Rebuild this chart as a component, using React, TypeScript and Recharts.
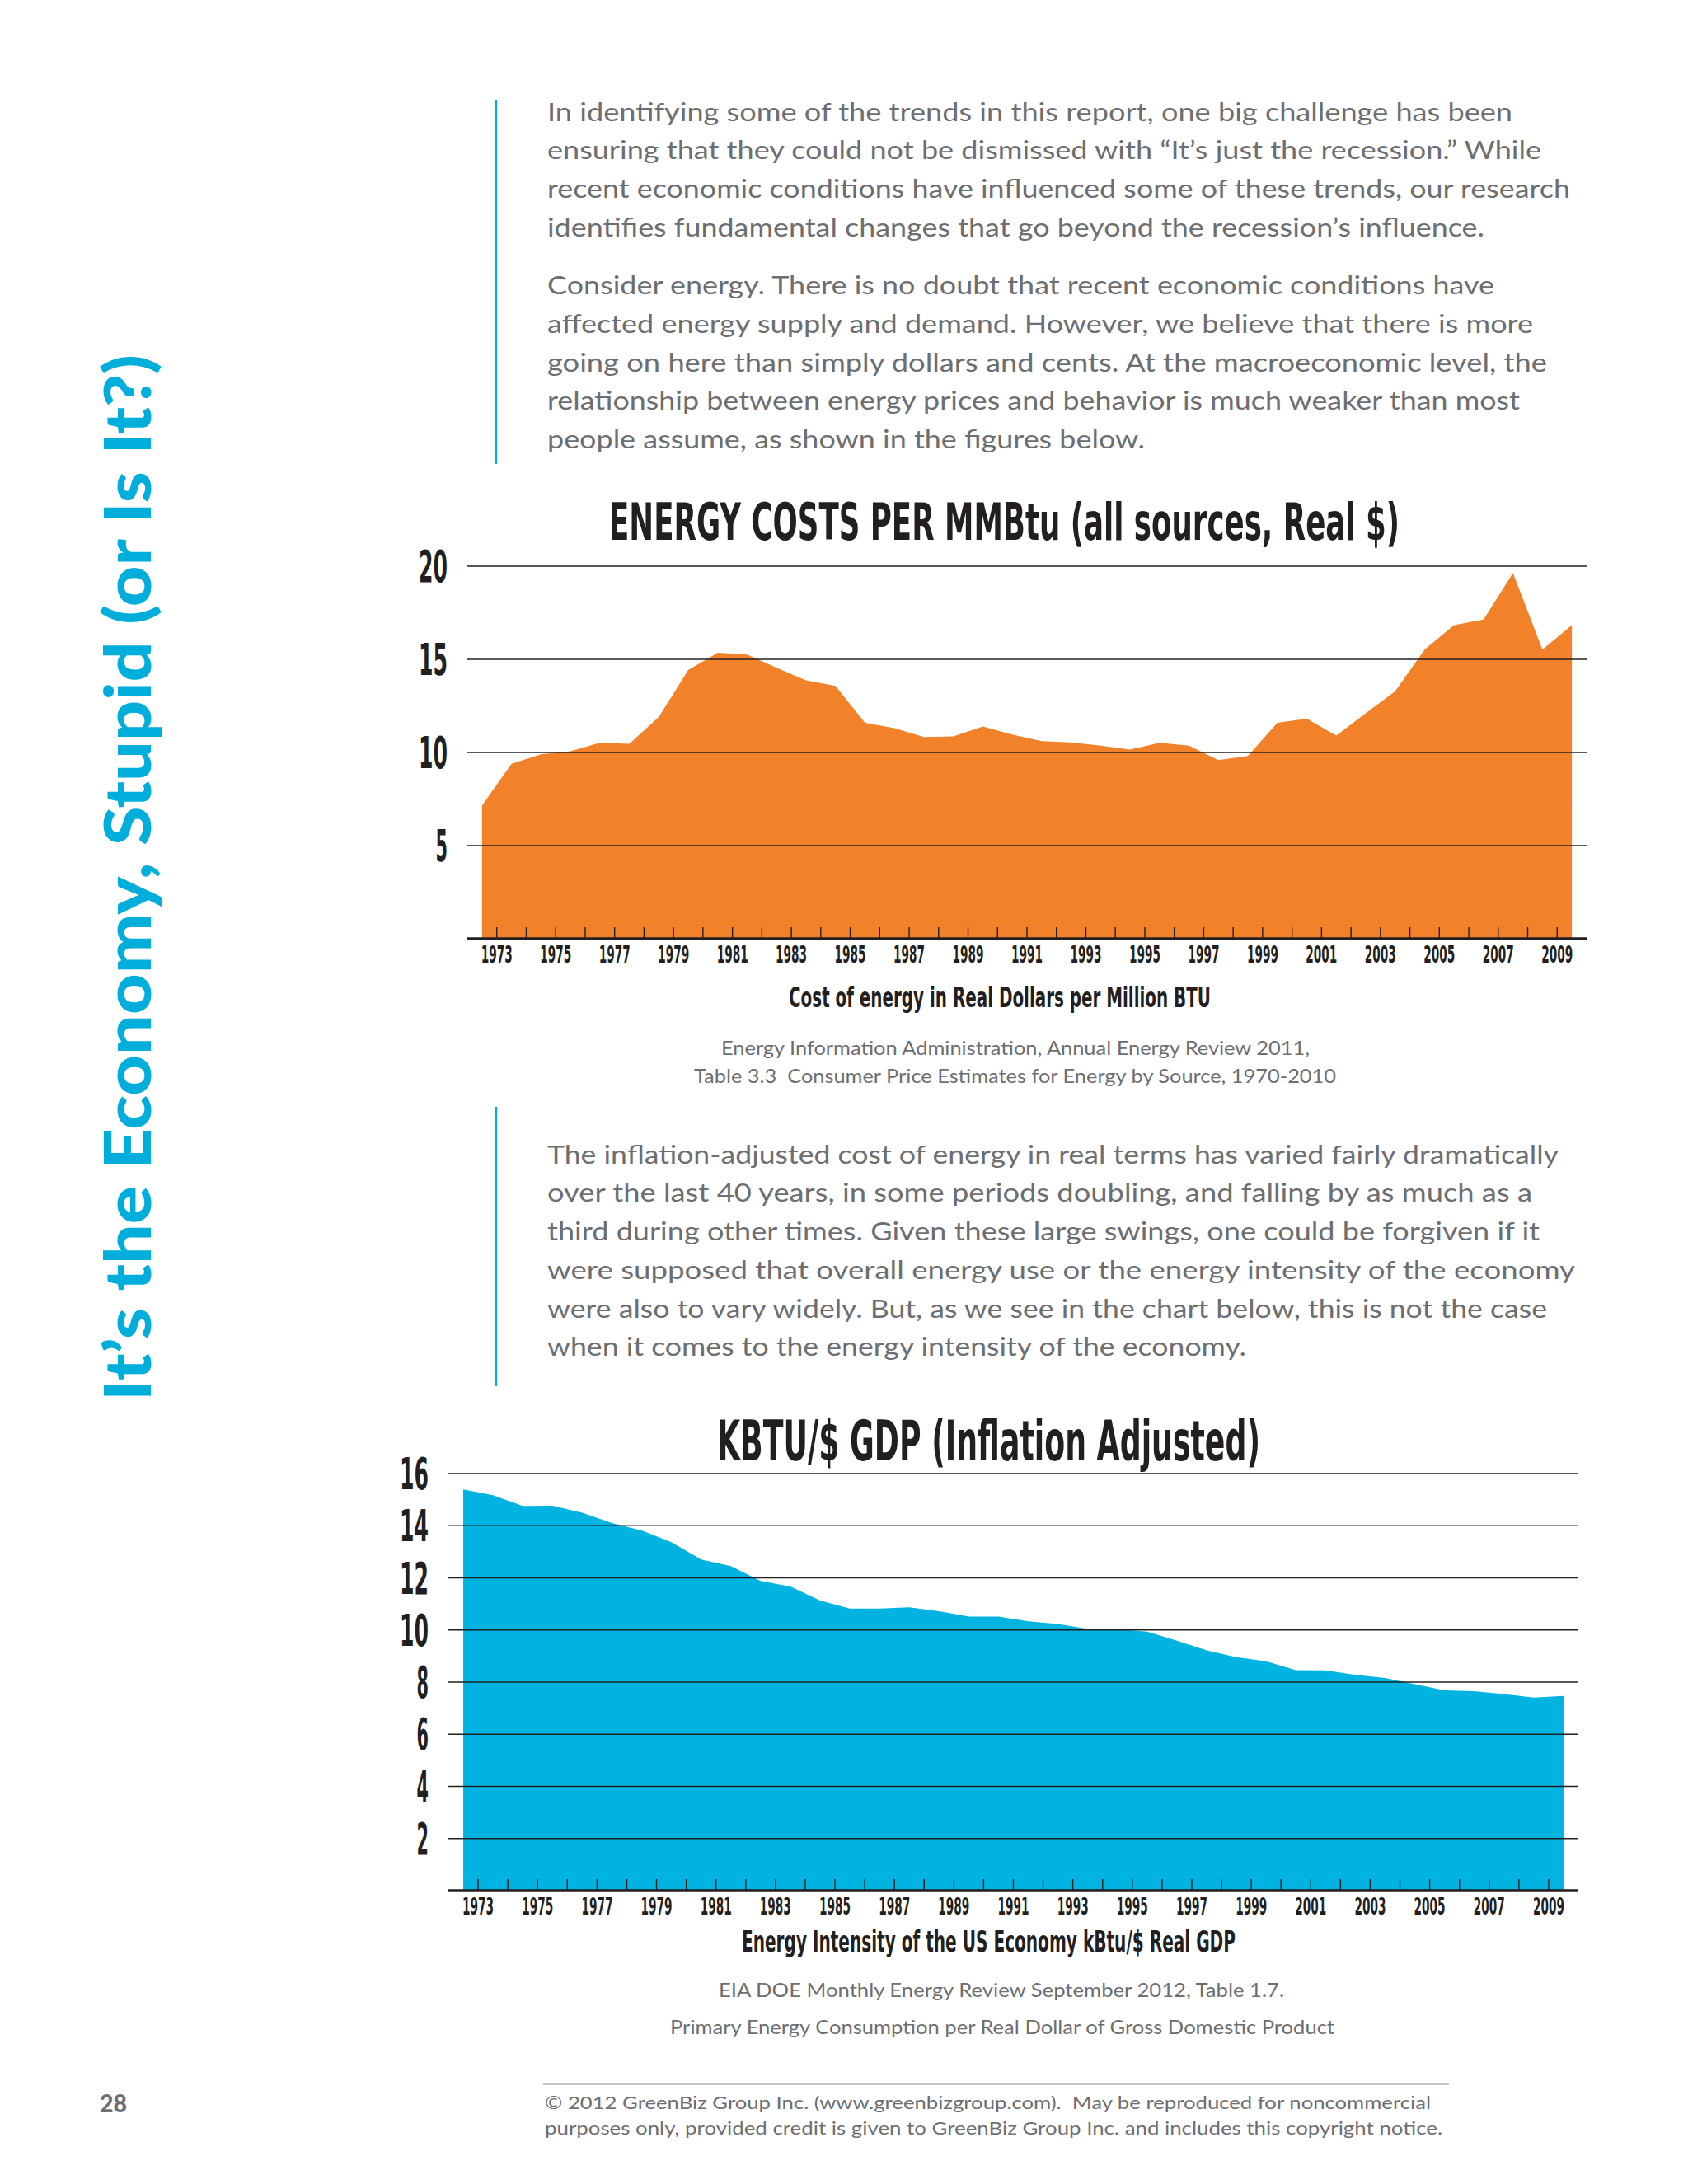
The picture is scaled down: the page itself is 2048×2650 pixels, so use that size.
import React from "react";
import { AreaChart, Area, XAxis, YAxis, ReferenceLine, Customized } from "recharts";

// years 1973-2010, one value per year
const YEARS = [
  1973, 1974, 1975, 1976, 1977, 1978, 1979, 1980, 1981, 1982, 1983, 1984, 1985,
  1986, 1987, 1988, 1989, 1990, 1991, 1992, 1993, 1994, 1995, 1996, 1997, 1998,
  1999, 2000, 2001, 2002, 2003, 2004, 2005, 2006, 2007, 2008, 2009, 2010,
];

// $ per MMBtu, real dollars
const ENERGY_COST = [
  7.16, 9.39, 9.9, 10.07, 10.52, 10.46, 11.9, 14.43, 15.35, 15.25, 14.55, 13.87,
  13.57, 11.59, 11.3, 10.83, 10.86, 11.39, 10.96, 10.61, 10.54, 10.37, 10.15,
  10.52, 10.37, 9.59, 9.81, 11.59, 11.81, 10.91, 12.1, 13.28, 15.52, 16.84,
  17.14, 19.64, 15.52, 16.84,
];

// kBtu per real $ of GDP
const ENERGY_INTENSITY = [
  15.39, 15.17, 14.76, 14.77, 14.5, 14.1, 13.82, 13.37, 12.7, 12.45, 11.88,
  11.67, 11.13, 10.82, 10.82, 10.87, 10.72, 10.51, 10.51, 10.33, 10.23, 10.04,
  10.02, 9.94, 9.59, 9.22, 8.96, 8.8, 8.46, 8.45, 8.28, 8.16, 7.92, 7.68, 7.65,
  7.54, 7.41, 7.47,
];

const YEAR_TICKS = YEARS.slice(0, -1);
const COST_TICKS = [5, 10, 15, 20];
const INTENSITY_TICKS = [2, 4, 6, 8, 10, 12, 14, 16];

const PARA_1 = [
  "In identifying some of the trends in this report, one big challenge has been",
  "ensuring that they could not be dismissed with \u201CIt\u2019s just the recession.\u201D While",
  "recent economic conditions have influenced some of these trends, our research",
  "identifies fundamental changes that go beyond the recession\u2019s influence.",
];
const PARA_2 = [
  "Consider energy. There is no doubt that recent economic conditions have",
  "affected energy supply and demand. However, we believe that there is more",
  "going on here than simply dollars and cents. At the macroeconomic level, the",
  "relationship between energy prices and behavior is much weaker than most",
  "people assume, as shown in the figures below.",
];
const PARA_3 = [
  "The inflation-adjusted cost of energy in real terms has varied fairly dramatically",
  "over the last 40 years, in some periods doubling, and falling by as much as a",
  "third during other times. Given these large swings, one could be forgiven if it",
  "were supposed that overall energy use or the energy intensity of the economy",
  "were also to vary widely. But, as we see in the chart below, this is not the case",
  "when it comes to the energy intensity of the economy.",
];

// measured line widths (layout only)
const PARA_1_W = [1171, 1206, 1241, 1137];
const PARA_2_W = [1149, 1196, 1213, 1180, 725];
const PARA_3_W = [1227, 1195, 1204, 1247, 1213, 848];

const ORANGE = "#F28229";
const CYAN = "#00B3E0";
const TITLE_CYAN = "#00AEDB";
const INK = "#231F20";
const GRAY = "#6D6E71";
const COND = "'Liberation Sans Narrow', 'DejaVu Sans Condensed', 'Roboto', Arial, sans-serif";
const BODY = "Lato, 'Open Sans', 'Noto Sans', sans-serif";
const SQUEEZE = 0.65;

const costData = YEARS.map((year, i) => ({ year, pos: year - 0.5, value: ENERGY_COST[i] }));
const intensityData = YEARS.map((year, i) => ({ year, pos: year - 0.5, value: ENERGY_INTENSITY[i] }));

function YearTick(props: any) {
  const { x, y, payload } = props;
  const year = payload.value;
  return (
    <g>
      <line x1={x} x2={x} y1={y - 14} y2={y} stroke={INK} strokeWidth={1.4} />
      {year % 2 === 1 && (
        <text
          x={x}
          y={y + 29}
          textAnchor="middle"
          fontFamily={COND}
          fontWeight={700}
          fontSize={28}
          fill={INK}
          textLength={38}
          lengthAdjust="spacingAndGlyphs"
        >
          {year}
        </text>
      )}
    </g>
  );
}

function ValueTick(props: any) {
  const { x, y, payload } = props;
  const s = String(payload.value);
  return (
    <text
      x={x - 24}
      y={y + 19}
      textAnchor="end"
      fontFamily={COND}
      fontWeight={700}
      fontSize={53}
      fill={INK}
      textLength={s.length === 1 ? 14.5 : 35}
      lengthAdjust="spacingAndGlyphs"
    >
      {s}
    </text>
  );
}

// condensed heading: squeezed horizontally, then fitted to the measured width
function Squeezed({ x, y, w, size, children }: { x: number; y: number; w: number; size: number; children: React.ReactNode }) {
  return (
    <text
      transform={`translate(${x},${y}) scale(${SQUEEZE},1)`}
      x={0}
      y={0}
      fontFamily={COND}
      fontWeight={700}
      fontSize={size}
      fill={INK}
      textLength={w / SQUEEZE}
      lengthAdjust="spacingAndGlyphs"
    >
      {children}
    </text>
  );
}

function EnergyChart({
  data,
  ticks,
  max,
  color,
  width,
  height,
  yWidth,
  xHeight,
  top,
  right,
  title,
}: {
  data: { year: number; pos: number; value: number }[];
  ticks: number[];
  max: number;
  color: string;
  width: number;
  height: number;
  yWidth: number;
  xHeight: number;
  top: number;
  right: number;
  title: { text: string; x: number; y: number; w: number; size: number };
}) {
  return (
    <AreaChart width={width} height={height} data={data} margin={{ top, right, bottom: 0, left: 0 }}>
      <Area
        type="linear"
        dataKey="value"
        fill={color}
        fillOpacity={1}
        stroke="none"
        dot={false}
        activeDot={false}
        isAnimationActive={false}
      />
      {ticks.map((t) => (
        <ReferenceLine key={t} y={t} stroke={INK} strokeWidth={1.5} />
      ))}
      <XAxis
        type="number"
        dataKey="pos"
        domain={[1972, 2010]}
        ticks={YEAR_TICKS}
        interval={0}
        allowDataOverflow
        height={xHeight}
        tickSize={0}
        tickMargin={0}
        tickLine={false}
        axisLine={{ stroke: INK, strokeWidth: 3.5 }}
        tick={<YearTick />}
      />
      <YAxis
        type="number"
        domain={[0, max]}
        ticks={ticks}
        interval={0}
        width={yWidth}
        tickSize={0}
        tickMargin={0}
        tickLine={false}
        axisLine={false}
        tick={<ValueTick />}
      />
      <Customized
        component={() => (
          <Squeezed x={title.x} y={title.y} w={title.w} size={title.size}>
            {title.text}
          </Squeezed>
        )}
      />
    </AreaChart>
  );
}

function Fit({
  x,
  y,
  w,
  size,
  family = BODY,
  weight = 400,
  fill = GRAY,
  children,
}: {
  x: number;
  y: number;
  w: number;
  size: number;
  family?: string;
  weight?: number;
  fill?: string;
  children: React.ReactNode;
}) {
  return (
    <text
      x={x}
      y={y}
      fontSize={size}
      fontFamily={family}
      fontWeight={weight}
      fill={fill}
      textLength={w}
      lengthAdjust="spacingAndGlyphs"
      style={{ whiteSpace: "pre" }}
    >
      {children}
    </text>
  );
}

export default function App() {
  return (
    <div
      style={{
        position: "absolute",
        left: 0,
        top: 0,
        width: 2048,
        height: 2650,
        background: "#ffffff",
        overflow: "hidden",
      }}
    >
      <div style={{ position: "absolute", left: 440, top: 580 }}>
        <EnergyChart
          data={costData}
          ticks={COST_TICKS}
          max={20}
          color={ORANGE}
          width={1510}
          height={620}
          yWidth={127}
          xHeight={61}
          top={107}
          right={25}
          title={{ text: "ENERGY COSTS PER MMBtu (all sources, Real $)", x: 299, y: 75, w: 959, size: 63 }}
        />
      </div>
      <div style={{ position: "absolute", left: 420, top: 1700 }}>
        <EnergyChart
          data={intensityData}
          ticks={INTENSITY_TICKS}
          max={16}
          color={CYAN}
          width={1520}
          height={660}
          yWidth={124}
          xHeight={66}
          top={88}
          right={25}
          title={{ text: "KBTU/$ GDP (Inflation Adjusted)", x: 450, y: 72, w: 659, size: 67 }}
        />
      </div>

      <svg
        width={2048}
        height={2650}
        style={{ position: "absolute", left: 0, top: 0, pointerEvents: "none" }}
      >
        <text
          transform="translate(183,1700) rotate(-90)"
          fontFamily={BODY}
          fontWeight={900}
          fontSize={78}
          fill={TITLE_CYAN}
          textLength={1270}
          lengthAdjust="spacingAndGlyphs"
        >
          It’s the Economy, Stupid (or Is It?)
        </text>

        <line x1={602} x2={602} y1={121} y2={563} stroke={TITLE_CYAN} strokeWidth={2.2} />
        <line x1={602} x2={602} y1={1343} y2={1682} stroke={TITLE_CYAN} strokeWidth={2.2} />

        {PARA_1.map((s, i) => (
          <Fit key={"a" + i} x={664} y={146.7 + i * 46.7} w={PARA_1_W[i]} size={31}>
            {s}
          </Fit>
        ))}
        {PARA_2.map((s, i) => (
          <Fit key={"b" + i} x={664} y={357.3 + i * 46.7} w={PARA_2_W[i]} size={31}>
            {s}
          </Fit>
        ))}
        {PARA_3.map((s, i) => (
          <Fit key={"c" + i} x={664} y={1411.7 + i * 46.7} w={PARA_3_W[i]} size={31}>
            {s}
          </Fit>
        ))}

        <Fit x={957} y={1222} w={512} size={34} family={COND} weight={700} fill={INK}>
          Cost of energy in Real Dollars per Million BTU
        </Fit>
        <Fit x={875} y={1280} w={714} size={23}>
          Energy Information Administration, Annual Energy Review 2011,
        </Fit>
        <Fit x={842} y={1314} w={779} size={23}>
          {"Table 3.3  Consumer Price Estimates for Energy by Source, 1970-2010"}
        </Fit>

        <Fit x={900} y={2368} w={599} size={35} family={COND} weight={700} fill={INK}>
          Energy Intensity of the US Economy kBtu/$ Real GDP
        </Fit>
        <Fit x={872} y={2423} w={686} size={23}>
          EIA DOE Monthly Energy Review September 2012, Table 1.7.
        </Fit>
        <Fit x={813} y={2468} w={806} size={23}>
          Primary Energy Consumption per Real Dollar of Gross Domestic Product
        </Fit>

        <line x1={659} x2={1758} y1={2529} y2={2529} stroke="#C4C5C7" strokeWidth={2} />
        <Fit x={661} y={2559} w={1075} size={22}>
          {"© 2012 GreenBiz Group Inc. (www.greenbizgroup.com).  May be reproduced for noncommercial"}
        </Fit>
        <Fit x={661} y={2590} w={1089} size={22}>
          purposes only, provided credit is given to GreenBiz Group Inc. and includes this copyright notice.
        </Fit>
        <Fit x={121} y={2563} w={33} size={31} weight={900}>
          28
        </Fit>
      </svg>
    </div>
  );
}
